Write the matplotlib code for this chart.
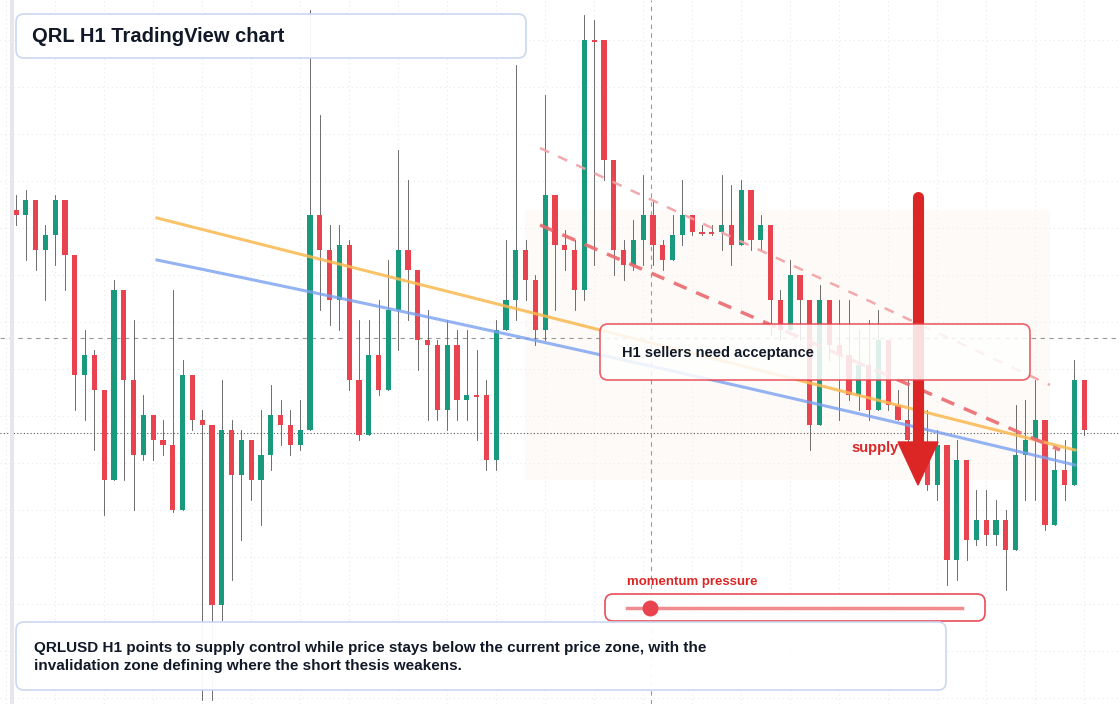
import numpy as np
import matplotlib.pyplot as plt
from matplotlib.patches import FancyBboxPatch, Rectangle

plt.rcParams['font.family'] = ['Liberation Sans', 'DejaVu Sans']

# candle levels (screen-y units, smaller = higher price)
closes = [215,200,250,235,200,255,375,355,390,480,290,380,455,415,440,445,510,375,420,425,
          605,430,475,440,480,455,415,425,445,430,215,250,300,245,380,435,355,390,310,250,
          270,340,345,410,345,400,395,395,460,330,300,250,280,330,195,245,250,290,40,40,
          160,250,265,240,215,245,260,235,215,232,232,232,225,245,190,240,225,300,330,275,
          300,425,300,345,355,395,365,410,340,405,420,440,460,485,445,560,460,540,520,535,
          520,550,455,440,420,525,470,485,380,430]
highs = [195,190,215,225,195,230,320,330,350,400,280,300,320,395,420,420,290,360,380,410,
         500,380,420,430,440,410,385,400,410,400,10,115,225,225,240,320,320,300,260,150,
         180,290,310,340,320,330,330,350,380,320,240,65,240,275,95,210,230,240,15,20,
         55,170,240,220,175,200,240,215,180,225,225,225,175,185,180,210,215,240,290,260,
         275,320,285,330,300,300,330,320,310,370,390,380,380,410,430,490,440,470,490,490,
         500,510,405,400,380,420,450,440,360,425]
lows = [225,260,270,300,265,290,410,420,450,515,410,480,510,460,460,455,512,440,430,700,
        700,620,580,540,500,525,470,445,455,450,395,310,325,330,390,440,435,395,370,350,
        320,370,420,420,430,420,420,440,470,470,320,320,300,345,340,310,270,310,300,265,
        180,275,280,270,265,265,270,250,245,235,235,235,250,265,245,250,250,335,340,320,
        340,450,340,360,420,400,410,420,400,410,420,450,460,490,500,585,580,560,545,545,
        545,590,520,500,500,530,510,500,475,435]
opens = [210] + closes[:-1]

GREEN = '#1a9a7c'
RED = '#e8434f'

fig = plt.figure(figsize=(11.2, 7.04), dpi=100)
ax = fig.add_axes([0, 0, 1, 1])
step = 9.8
ax.set_xlim(-16 / step, (1120 - 16) / step)
ax.set_ylim(704, 0)
ax.axis('off')

# light grid
for gx in np.arange(-1, 113, 5):
    ax.axvline(gx, color='#e6e9ee', lw=0.8, ls=(0, (1, 3)), zorder=0)
for gy in np.arange(40, 704, 47):
    ax.axhline(gy, color='#e6e9ee', lw=0.8, ls=(0, (1, 3)), zorder=0)

# faint supply zone
ax.add_patch(Rectangle((525 / step - 16 / step, 210), 525 / step, 270,
                       color='#fdf3ea', alpha=0.35, lw=0, zorder=0))

for i, (o, h, l, c) in enumerate(zip(opens, highs, lows, closes)):
    col = GREEN if c < o else RED
    hi = min(h, o, c)
    lo = max(l, o, c)
    ax.plot([i, i], [hi, lo], color='#555555', lw=0.6, zorder=2)
    ax.add_patch(Rectangle((i - 0.27, min(o, c)), 0.54, max(abs(c - o), 1.5),
                           color=col, lw=0, zorder=3))

# reference lines
ax.axhline(338, color='#999999', lw=0.8, ls=(0, (4, 4)), zorder=1)
ax.axhline(433, color='#555555', lw=0.8, ls=(0, (1, 2)), zorder=1)
ax.axvline((651 - 16) / step, color='#999999', lw=0.8, ls=(0, (4, 4)), zorder=1)

def px(x):
    return (np.asarray(x) - 16) / step

ax.plot(px([157, 1075]), [218, 450], color='#f9b94f', lw=2.2, alpha=0.85, zorder=4)
bx = np.linspace(157, 1075, 50)
by = 260 + (bx - 157) * 0.205 + 0.00002 * (bx - 157) ** 2
ax.plot(px(bx), by, color='#7aa0f0', lw=2.2, alpha=0.8, zorder=4)
ax.plot(px([540, 1060]), [225, 450], color='#ea6a6f', lw=2.5, ls=(0, (4, 3)), alpha=0.9, zorder=4)
ax.plot(px([540, 1050]), [148, 385], color='#f0a0a4', lw=1.8, ls=(0, (4, 4)), alpha=0.9, zorder=4)

# arrow
ax.plot(px([918, 918]), [197, 445], color='#dc2626', lw=8, solid_capstyle='round', zorder=6)
ax.fill(px([898, 938, 918]), [442, 442, 485], color='#dc2626', zorder=6)
ax.text(px(851), 448, 'supply', color='#dc2626', fontsize=10.5, fontweight='bold',
        va='center', zorder=5)

# overlay boxes in pixel space
ov = fig.add_axes([0, 0, 1, 1])
ov.set_xlim(0, 1120)
ov.set_ylim(704, 0)
ov.axis('off')
ov.add_patch(Rectangle((10, 0), 4, 704, color='#e5e7eb', lw=0))

def box(x0, y0, x1, y1, ec, fc='white', alpha=0.95):
    ov.add_patch(FancyBboxPatch((x0, y0), x1 - x0, y1 - y0,
                                boxstyle='round,pad=0,rounding_size=8',
                                fc=fc, ec=ec, lw=1.2, alpha=alpha, zorder=7))

box(16, 14, 526, 58, '#c7d6f0')
ov.text(32, 36, 'QRL H1 TradingView chart', fontsize=14.5, fontweight='bold',
        color='#111827', va='center', zorder=8)
box(600, 324, 1030, 380, '#e8434f', alpha=0.85)
ov.text(622, 353, 'H1 sellers need acceptance', fontsize=10.5, fontweight='bold',
        color='#111827', va='center', zorder=8)
box(605, 594, 985, 621, '#e8434f')
ov.plot([627, 962], [607.5, 607.5], color='#f08c8f', lw=2.5, zorder=8)
ov.scatter([650], [607.5], s=110, color='#e8434f', zorder=9)
ov.text(627, 582, 'momentum pressure', fontsize=9.5, fontweight='bold',
        color='#dc2626', va='center', zorder=8)
box(16, 622, 946, 690, '#c7d6f0')
ov.text(34, 657, 'QRLUSD H1 points to supply control while price stays below the current price zone, with the\n'
        'invalidation zone defining where the short thesis weakens.',
        fontsize=11, fontweight='bold', color='#111827', va='center', linespacing=1.3, zorder=8)

fig.savefig('out.png', dpi=100)
